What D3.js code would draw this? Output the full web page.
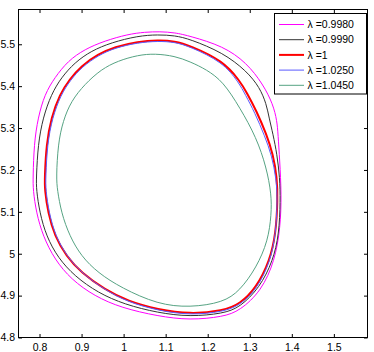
<!DOCTYPE html>
<html>
  <head>
    <meta charset="utf-8">
    <title>Contours for several lambda</title>
    <style>
      body { margin: 0; background: #fff; }
      svg { display: block; font-family: "Liberation Sans", Arial, sans-serif; }
      .tick text { font-size: 10.5px; fill: #000; }
      .tick line { stroke: #000; }
      .curve { fill: none; }
      .legend text { font-size: 10.5px; }
    </style>
  </head>
  <body>
    <svg width="374" height="352"></svg>
    <script src="https://d3js.org/d3.v7.min.js"></script>
    <script>
      // axis ticks
      const xTicks = [0.8, 0.9, 1, 1.1, 1.2, 1.3, 1.4, 1.5];
      const yTicks = [4.8, 4.9, 5, 5.1, 5.2, 5.3, 5.4, 5.5];

      // legend labels and colours
      const labels = ["λ =0.9980", "λ =0.9990", "λ =1", "λ =1.0250", "λ =1.0450"];
      const colors = ["#ff00ff", "#333333", "#ff0000", "#5a5aff", "#56a383"];
      const widths = [1, 1, 2, 1, 1];

      // contour points, [x, y]
      const lam09980 = [[0.7846,5.1819],[0.7869,5.2613],[0.7964,5.3251],[0.8124,5.3807],[0.8361,5.4205],
        [0.8677,5.4604],[0.9074,5.4881],[0.9549,5.5081],[1.0102,5.5239],[1.0506,5.5291],[1.0862,5.5303],
        [1.1219,5.5279],[1.1575,5.5196],[1.2366,5.4957],[1.2922,5.4563],[1.3316,5.4045],[1.3553,5.3568],
        [1.3648,5.3172],[1.3672,5.2852],[1.3713,5.2217],[1.3753,5.1420],[1.3729,5.0625],[1.3594,4.9831],
        [1.3278,4.9115],[1.2763,4.8637],[1.2366,4.8494],[1.1575,4.8413],[1.0815,4.8508],[0.9943,4.8709],
        [0.9311,4.8986],[0.8755,4.9384],[0.8361,4.9862],[0.8083,5.0418],[0.7924,5.0976],[0.7846,5.1532]];
      const lam09990 = [[0.7924,5.1819],[0.7964,5.2613],[0.8083,5.3251],[0.8280,5.3807],[0.8518,5.4205],
        [0.8836,5.4563],[0.9230,5.4842],[0.9705,5.5040],[1.0340,5.5200],[1.0815,5.5231],[1.1219,5.5208],
        [1.1575,5.5124],[1.2359,5.4802],[1.2922,5.4365],[1.3238,5.3967],[1.3397,5.3568],[1.3458,5.3251],
        [1.3553,5.2852],[1.3648,5.2375],[1.3713,5.1819],[1.3729,5.1270],[1.3696,5.0465],[1.3553,4.9831],
        [1.3238,4.9193],[1.2763,4.8716],[1.2366,4.8573],[1.1575,4.8494],[1.0815,4.8589],[1.0024,4.8788],
        [0.9390,4.9067],[0.8836,4.9463],[0.8439,4.9902],[0.8162,5.0418],[0.8005,5.0976],[0.7924,5.1532]];
      const lam1 = [[0.8124,5.1819],[0.8162,5.2613],[0.8280,5.3251],[0.8480,5.3807],[0.8717,5.4165],
        [0.8993,5.4484],[0.9390,5.4761],[0.9786,5.4938],[1.0340,5.5064],[1.0815,5.5100],[1.1219,5.5076],
        [1.1575,5.4969],[1.2366,5.4604],[1.2763,5.4126],[1.2929,5.3847],[1.3159,5.3410],[1.3397,5.2852],
        [1.3553,5.2375],[1.3648,5.1819],[1.3665,5.1293],[1.3618,5.0465],[1.3475,4.9831],[1.3159,4.9193],
        [1.2763,4.8795],[1.2366,4.8637],[1.1575,4.8556],[1.0815,4.8668],[1.0102,4.8866],[0.9549,4.9146],
        [0.8993,4.9544],[0.8637,4.9940],[0.8361,5.0418],[0.8202,5.0976],[0.8124,5.1532]];
      const lam10250 = [[0.8147,5.1819],[0.8185,5.2613],[0.8304,5.3239],[0.8504,5.3788],[0.8736,5.4146],
        [0.9010,5.4460],[0.9401,5.4737],[0.9793,5.4914],[1.0340,5.5040],[1.0815,5.5076],[1.1219,5.5052],
        [1.1575,5.4945],[1.2359,5.4575],[1.2739,5.4086],[1.2893,5.3799],[1.3119,5.3370],[1.3356,5.2809],
        [1.3523,5.2344],[1.3629,5.1795],[1.3660,5.1293],[1.3618,5.0458],[1.3487,4.9814],[1.3178,4.9169],
        [1.2774,4.8771],[1.2366,4.8613],[1.1575,4.8532],[1.0815,4.8644],[1.0102,4.8847],[0.9556,4.9134],
        [0.9005,4.9537],[0.8653,4.9940],[0.8380,5.0422],[0.8226,5.0976],[0.8147,5.1532]];
      const lam10450 = [[0.8399,5.1819],[0.8439,5.2613],[0.8558,5.3172],[0.8755,5.3649],[0.9074,5.4045],
        [0.9468,5.4403],[0.9865,5.4604],[1.0340,5.4742],[1.0743,5.4778],[1.1219,5.4718],[1.1575,5.4587],
        [1.1972,5.4396],[1.2366,5.4110],[1.2763,5.3489],[1.3159,5.2773],[1.3397,5.2057],[1.3515,5.1420],
        [1.3515,5.0943],[1.3435,5.0308],[1.3159,4.9671],[1.2763,4.9115],[1.2366,4.8835],[1.1575,4.8716],
        [1.0815,4.8788],[0.9943,4.9186],[0.9390,4.9544],[0.8993,4.9940],[0.8717,5.0418],[0.8518,5.0976],
        [0.8423,5.1532]];

      const series = [lam09980, lam09990, lam1, lam10250, lam10450];

      const svg = d3.select("svg");
      const x0 = 18.5, x1 = 367.5, y0 = 9.5, y1 = 337.5;

      const x = d3.scaleLinear().domain([0.75, 1.58]).range([x0, x1]);
      const y = d3.scaleLinear().domain([4.8, 5.583]).range([y1, y0]);

      const line = d3.line()
        .x(d => x(d[0]))
        .y(d => y(d[1]))
        .curve(d3.curveBasisClosed);

      const fmt = d3.format("~g");

      // axes, ticks pointing inward on all four sides
      svg.append("g").attr("transform", `translate(0,${y1})`)
        .call(d3.axisBottom(x).tickValues(xTicks).tickFormat(fmt).tickSize(-3.5).tickPadding(6.5))
        .call(g => g.select(".domain").remove());
      svg.append("g").attr("transform", `translate(0,${y0})`)
        .call(d3.axisTop(x).tickValues(xTicks).tickFormat("").tickSize(-3.5))
        .call(g => g.select(".domain").remove());
      svg.append("g").attr("transform", `translate(${x0},0)`)
        .call(d3.axisLeft(y).tickValues(yTicks).tickFormat(fmt).tickSize(-3.5).tickPadding(3.5))
        .call(g => g.select(".domain").remove());
      svg.append("g").attr("transform", `translate(${x1},0)`)
        .call(d3.axisRight(y).tickValues(yTicks).tickFormat("").tickSize(-3.5))
        .call(g => g.select(".domain").remove());

      svg.selectAll(".curve")
        .data(series)
        .join("path")
        .attr("class", "curve")
        .attr("d", line)
        .attr("stroke", (d, i) => colors[i])
        .attr("stroke-width", (d, i) => widths[i]);

      svg.append("rect")
        .attr("x", x0).attr("y", y0)
        .attr("width", x1 - x0).attr("height", y1 - y0)
        .attr("fill", "none").attr("stroke", "#000");

      // legend
      const lg = svg.append("g").attr("class", "legend");
      lg.append("rect")
        .attr("x", 274.5).attr("y", 13.5).attr("width", 92).attr("height", 80.5)
        .attr("fill", "#fff").attr("stroke", "#000");
      const items = lg.selectAll(".item")
        .data(labels)
        .join("g")
        .attr("class", "item")
        .attr("transform", (d, i) => `translate(0,${24.5 + i * 15.2})`);
      items.append("line")
        .attr("x1", 279).attr("x2", 304)
        .attr("stroke", (d, i) => colors[i])
        .attr("stroke-width", (d, i) => widths[i]);
      items.append("text")
        .attr("x", 307.5).attr("dy", "0.36em")
        .text(d => d);
    </script>
  </body>
</html>
